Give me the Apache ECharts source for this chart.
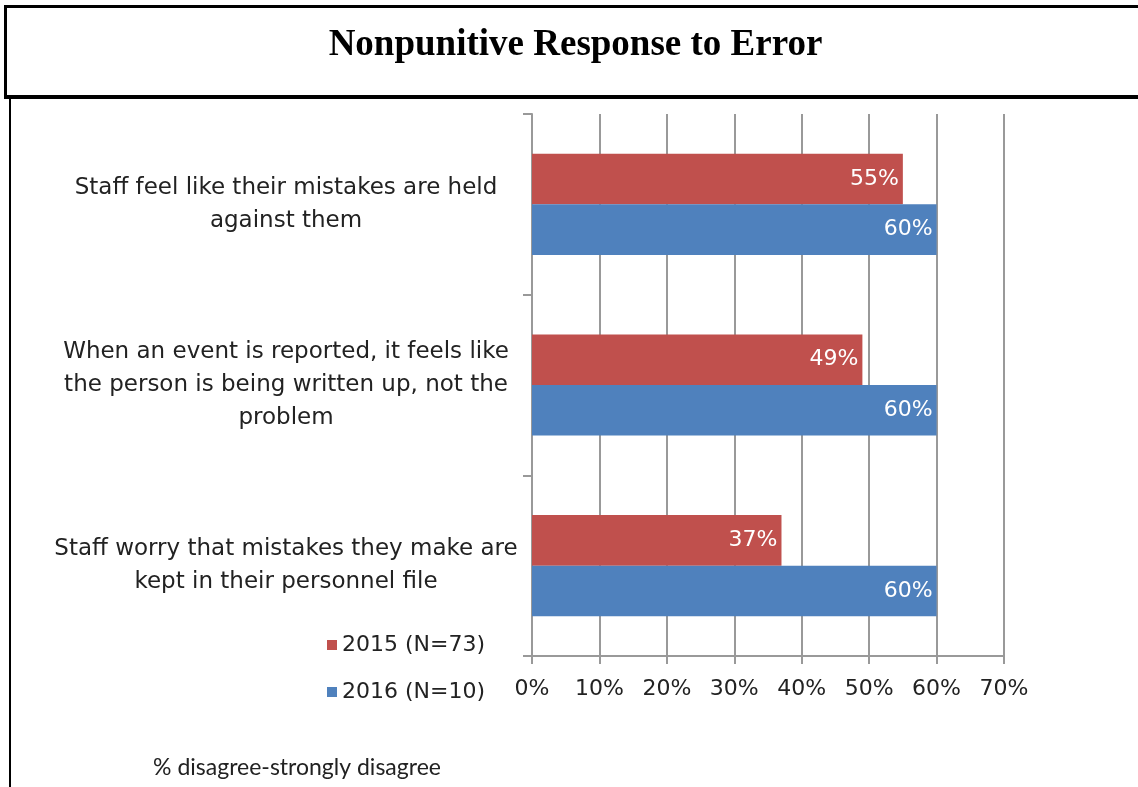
<!DOCTYPE html>
<html>
<head>
<meta charset="utf-8">
<script src="https://cdn.jsdelivr.net/npm/echarts@6/dist/echarts.min.js"></script>
<style>
html,body{margin:0;padding:0;background:#fff;}
#chart{width:1138px;height:787px;}
</style>
</head>
<body>
<div id="chart"></div>
<script>
var categories = [
  "Staff feel like their mistakes are held\nagainst them",
  "When an event is reported, it feels like\nthe person is being written up, not the\nproblem",
  "Staff worry that mistakes they make are\nkept in their personnel file"
];
var seriesNames = ["2015 (N=73)", "2016 (N=10)"];
var values2015 = [55, 49, 37];
var values2016 = [60, 60, 60];
var xTicks = [0, 10, 20, 30, 40, 50, 60, 70];
var titleText = "Nonpunitive Response to Error";
var axisNote = "% disagree-strongly disagree";

var font = "DejaVu Sans";
var chart = echarts.init(document.getElementById('chart'), null, {renderer: 'canvas'});
var option = {
  backgroundColor: '#fff',
  animation: false,
  graphic: [
    {type: 'rect', shape: {x: 5.5, y: 6.5, width: 1140, height: 90.5}, style: {fill: 'none', stroke: '#000', lineWidth: 3}, z: 100},
    {type: 'line', shape: {x1: 4, y1: 97, x2: 1140, y2: 97}, style: {stroke: '#000', lineWidth: 4}, z: 100},
    {type: 'line', shape: {x1: 10, y1: 98, x2: 10, y2: 787}, style: {stroke: '#000', lineWidth: 2}, z: 100},
    {type: 'text', x: 575.5, y: 45, style: {text: titleText, fontFamily: 'Liberation Serif', fontWeight: 'bold', fontSize: 37, fill: '#000', textAlign: 'center', textVerticalAlign: 'middle'}, z: 100},
    {type: 'text', x: 297, y: 768, style: {text: axisNote, fontFamily: 'Lato', fontSize: 23, fill: '#222', textAlign: 'center', textVerticalAlign: 'middle'}}
  ],
  legend: {
    orient: 'vertical', left: 322, top: 629,
    itemWidth: 10, itemHeight: 10, itemGap: 25, icon: 'rect',
    textStyle: {fontFamily: font, fontSize: 22, color: '#222'},
    data: seriesNames
  },
  grid: {left: 532, right: 134, top: 114, bottom: 131, containLabel: false},
  xAxis: {
    type: 'value', min: 0, max: 70, interval: 10,
    axisLine: {show: true, lineStyle: {color: '#999', width: 2}},
    axisTick: {show: true, length: 8, lineStyle: {color: '#999', width: 2}},
    splitLine: {show: true, lineStyle: {color: '#999', width: 2}},
    axisLabel: {formatter: '{value}%', margin: 22, fontFamily: font, fontSize: 22, color: '#222'}
  },
  yAxis: {
    type: 'category', inverse: true, data: categories,
    axisLine: {show: true, lineStyle: {color: '#999', width: 2}},
    axisTick: {show: true, length: 9, alignWithLabel: false, lineStyle: {color: '#999', width: 2}},
    axisLabel: {align: 'center', margin: 246, fontFamily: font, fontSize: 23, lineHeight: 33, color: '#222'}
  },
  series: [
    {name: seriesNames[0], type: 'bar', data: values2015, barGap: '0%', barCategoryGap: '44%',
     itemStyle: {color: '#C0504D'},
     label: {show: true, position: 'insideRight', distance: 4, formatter: '{c}%', color: '#fff', fontFamily: font, fontSize: 22}},
    {name: seriesNames[1], type: 'bar', data: values2016, barGap: '0%', barCategoryGap: '44%',
     itemStyle: {color: '#4F81BD'},
     label: {show: true, position: 'insideRight', distance: 4, formatter: '{c}%', color: '#fff', fontFamily: font, fontSize: 22}}
  ]
};
chart.setOption(option);
</script>
</body>
</html>
